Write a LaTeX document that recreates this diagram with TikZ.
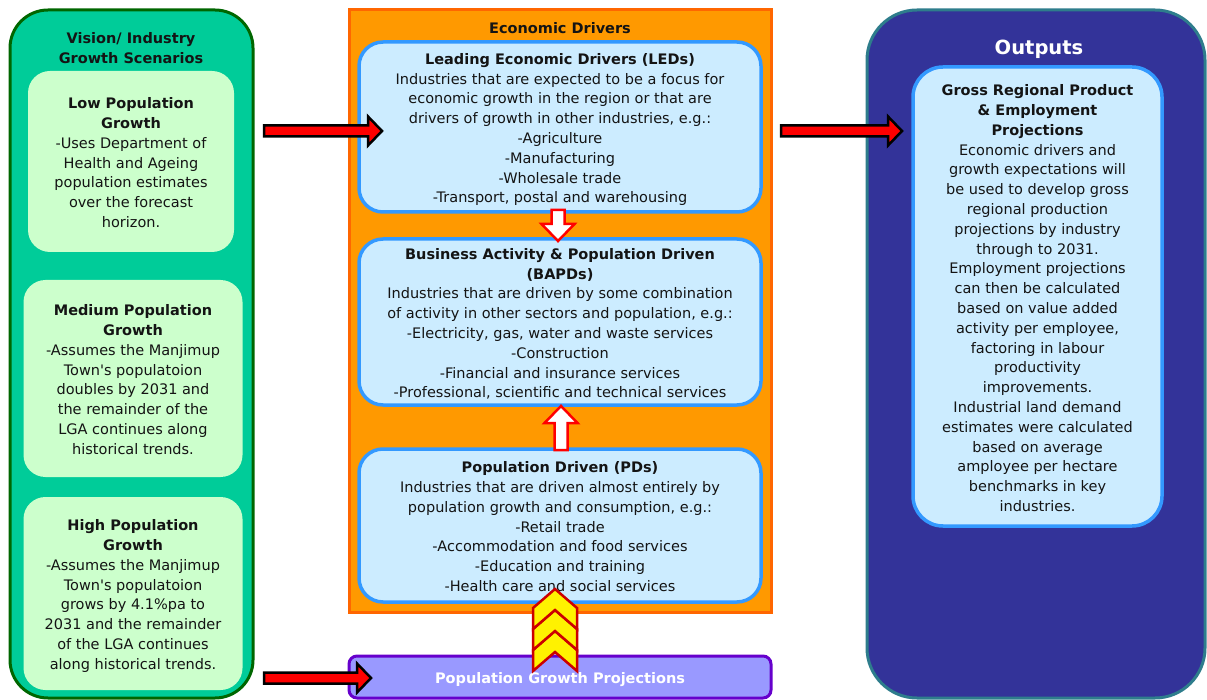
\documentclass[tikz,border=0pt]{standalone}
\usepackage{fontspec}
\setmainfont{DejaVu Sans}
\usetikzlibrary{calc}
\definecolor{panelgreen}{RGB}{0,204,153}
\definecolor{panelgreenborder}{RGB}{0,102,0}
\definecolor{lightgreen}{RGB}{204,255,204}
\definecolor{orangefill}{RGB}{255,153,0}
\definecolor{orangeborder}{RGB}{255,102,0}
\definecolor{lightblue}{RGB}{204,236,255}
\definecolor{blueborder}{RGB}{51,153,255}
\definecolor{purplefill}{RGB}{153,153,255}
\definecolor{purpleborder}{RGB}{102,0,204}
\definecolor{navyfill}{RGB}{51,51,153}
\definecolor{tealborder}{RGB}{46,125,140}
\definecolor{chevred}{RGB}{204,0,0}
\definecolor{textdark}{RGB}{20,20,20}
\newcommand{\topstrut}{\rule{0pt}{19pt}}
\newcommand{\rightblock}[3]{\draw[#1] ($(#2)+(0,-5.5)$) -- ($(#3)+(-14,-5.5)$) -- ($(#3)+(-14,-14.5)$) -- (#3) -- ($(#3)+(-14,14.5)$) -- ($(#3)+(-14,5.5)$) -- ($(#2)+(0,5.5)$) -- cycle;}
\newcommand{\vertblock}[4]{\draw[#1] ($(#2)+(-6.5,0)$) -- ($(#3)+(-6.5,#4)$) -- ($(#3)+(-16.5,#4)$) -- (#3) -- ($(#3)+(16.5,#4)$) -- ($(#3)+(6.5,#4)$) -- ($(#2)+(6.5,0)$) -- cycle;}
\newcommand{\chevron}[1]{\draw[chev] (#1) -- ($(#1)+(22,19)$) -- ($(#1)+(22,40)$) -- ($(#1)+(0,21)$) -- ($(#1)+(-22,40)$) -- ($(#1)+(-22,19)$) -- cycle;}
\begin{document}
\begin{tikzpicture}[x=1pt,y=-1pt,
  every node/.style={inner sep=0pt, outer sep=0pt, text=textdark},
  fs/.style={font=\fontsize{14.5}{19.8}\selectfont, align=center},
  bfs/.style={font=\fontsize{14.5}{19.8}\selectfont\bfseries, align=center},
  greenbox/.style={fs, fill=lightgreen, rounded corners=22pt},
  bluebox/.style={fs, draw=blueborder, fill=lightblue, line width=3.5pt, rounded corners=24pt},
  redarr/.style={draw=black, fill=red, line width=2.5pt, line join=miter},
  whitearr/.style={draw=red, fill=white, line width=2.5pt, line join=miter},
  chev/.style={draw=chevred, fill=yellow, line width=2.5pt, line join=miter}]
\useasboundingbox (0,0) rectangle (1207,700);
% left panel
\node[draw=panelgreenborder, fill=panelgreen, line width=3pt, rounded corners=38pt, minimum width=243pt, minimum height=688pt] (vis) at (131.5,354) {};
\node[bfs] (vistitle) at (131,49.5) {\strut Vision/ Industry\\Growth Scenarios\strut};
\node[greenbox, minimum width=206pt, minimum height=181pt] (low) at (131,161.5)
 {\topstrut\textbf{Low Population}\\\textbf{Growth}\\-Uses Department of\\Health and Ageing\\population estimates\\over the forecast\\horizon.\strut};
\node[greenbox, minimum width=219pt, minimum height=197pt] (med) at (133,378.5)
 {\topstrut\textbf{Medium Population}\\\textbf{Growth}\\-Assumes the Manjimup\\Town\textquotesingle s populatoion\\doubles by 2031 and\\the remainder of the\\LGA continues along\\historical trends.\strut};
\node[greenbox, minimum width=219pt, minimum height=193pt] (high) at (133,593.5)
 {\topstrut\textbf{High Population}\\\textbf{Growth}\\-Assumes the Manjimup\\Town\textquotesingle s populatoion\\grows by 4.1\%pa to\\2031 and the remainder\\of the LGA continues\\along historical trends.\strut};
% centre panel
\node[draw=orangeborder, fill=orangefill, line width=3pt, minimum width=422pt, minimum height=602pt] (eco) at (560,311) {};
\node[bfs] (ecotitle) at (560,28) {Economic Drivers};
\node[bluebox, minimum width=402pt, minimum height=170pt] (led) at (560,127)
 {\topstrut\textbf{Leading Economic Drivers (LEDs)}\\Industries that are expected to be a focus for\\economic growth in the region or that are\\drivers of growth in other industries, e.g.:\\-Agriculture\\-Manufacturing\\-Wholesale trade\\-Transport, postal and warehousing\strut};
\node[bluebox, minimum width=402pt, minimum height=166pt] (bapd) at (560,322)
 {\topstrut\textbf{Business Activity \& Population Driven}\\\textbf{(BAPDs)}\\Industries that are driven by some combination\\of activity in other sectors and population, e.g.:\\-Electricity, gas, water and waste services\\-Construction\\-Financial and insurance services\\-Professional, scientific and technical services\strut};
\node[bluebox, minimum width=402pt, minimum height=153pt] (pd) at (560,525.5)
 {\topstrut\textbf{Population Driven (PDs)}\\Industries that are driven almost entirely by\\population growth and consumption, e.g.:\\-Retail trade\\-Accommodation and food services\\-Education and training\\-Health care and social services\strut};
% population growth projections bar
\node[draw=purpleborder, fill=purplefill, line width=3pt, rounded corners=8pt, minimum width=422pt, minimum height=42pt, bfs, text=white] (pgp) at (560,677) {\rule{0pt}{19.5pt}Population Growth Projections\strut};
% right panel
\node[draw=tealborder, fill=navyfill, line width=3pt, rounded corners=50pt, minimum width=338pt, minimum height=688pt] (out) at (1036,354) {};
\node[font=\fontsize{19.5}{24}\selectfont\bfseries, text=white] (outtitle) at (1039,49) {Outputs};
\node[bluebox, minimum width=249pt, minimum height=459pt, rounded corners=30pt] (grp) at (1037.5,296.5)
 {\rule{0pt}{20pt}\textbf{Gross Regional Product}\\\textbf{\& Employment}\\\textbf{Projections}\\Economic drivers and\\growth expectations will\\be used to develop gross\\regional production\\projections by industry\\through to 2031.\\Employment projections\\can then be calculated\\based on value added\\activity per employee,\\factoring in labour\\productivity\\improvements.\\Industrial land demand\\estimates were calculated\\based on average\\amployee per hectare\\benchmarks in key\\industries.\strut};
% connector end points
\coordinate (a1s) at (264,131); \coordinate (a1e) at (382,131);
\coordinate (a2s) at (781,131); \coordinate (a2e) at (902,131);
\coordinate (a3s) at (264,678); \coordinate (a3e) at (371,678);
\coordinate (d1s) at (558,210); \coordinate (d1e) at (558,241);
\coordinate (u1s) at (561,450); \coordinate (u1e) at (561,406);
\coordinate (c1) at (555,589); \coordinate (c2) at (555,610); \coordinate (c3) at (555,631);
% connectors
\rightblock{redarr}{a1s}{a1e}
\rightblock{redarr}{a2s}{a2e}
\rightblock{redarr}{a3s}{a3e}
\vertblock{whitearr}{d1s}{d1e}{-17}
\vertblock{whitearr}{u1s}{u1e}{17}
\chevron{c3}
\chevron{c2}
\chevron{c1}
\end{tikzpicture}
\end{document}
